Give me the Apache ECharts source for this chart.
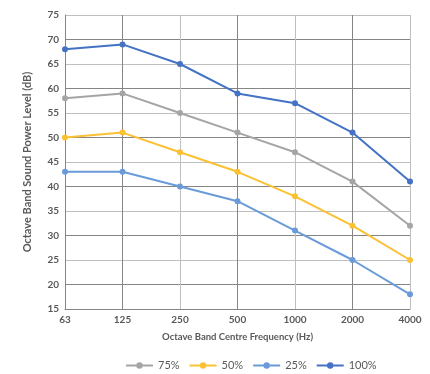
<!DOCTYPE html>
<html><head><meta charset="utf-8">
<script src="https://cdn.jsdelivr.net/npm/echarts@6/dist/echarts.min.js"></script>
<style>html,body{margin:0;padding:0;background:#fff}#c{width:430px;height:374px}</style>
</head><body><div id="c"></div>
<script>
const categories = ['63','125','250','500','1000','2000','4000'];
const s75 = [58, 59, 55, 51, 47, 41, 32];
const s50 = [50, 51, 47, 43, 38, 32, 25];
const s25 = [43, 43, 40, 37, 31, 25, 18];
const s100 = [68, 69, 65, 59, 57, 51, 41];
const seriesNames = ['75%','50%','25%','100%'];
const seriesData = [s75, s50, s25, s100];
const colors = ['#A5A5A5','#FBC132','#6A9BD8','#4472C4'];
const font = 'Lato, "Open Sans", sans-serif';
const chart = echarts.init(document.getElementById('c'));
chart.setOption({
  animation:false,
  color: colors,
  grid:{left:65,right:20,top:15,bottom:65},
  legend:{top:355,left:120,itemWidth:27,itemHeight:8,itemGap:9,
    textStyle:{color:'#595959',fontSize:11,fontFamily:font}},
  xAxis:{type:'category',data:categories,boundaryGap:false,
    name:'Octave Band Centre Frequency (Hz)',nameLocation:'middle',nameGap:23,
    nameTextStyle:{color:'#595959',fontSize:9.5,fontWeight:'bold',fontFamily:font},
    axisLine:{lineStyle:{color:'#858585',width:1}},axisTick:{show:false},
    axisLabel:{color:'#595959',fontSize:10,fontWeight:'bold',fontFamily:font,margin:6},
    splitLine:{show:true,lineStyle:{color:['#bfbfbf','#858585'],width:1}}},
  yAxis:{type:'value',min:15,max:75,interval:5,
    name:'Octave Band Sound Power Level (dB)',nameLocation:'middle',nameGap:32,
    nameTextStyle:{color:'#595959',fontSize:11,fontWeight:'bold',fontFamily:font},
    axisLine:{show:true,lineStyle:{color:'#858585'}},axisTick:{show:false},
    axisLabel:{color:'#595959',fontSize:10,fontWeight:'bold',fontFamily:font,margin:6},
    splitLine:{show:true,lineStyle:{color:['#bfbfbf','#858585'],width:1}}},
  series: seriesNames.map((n,i)=>({name:n,type:'line',data:seriesData[i],
    symbol:'circle',symbolSize:6,lineStyle:{width:2},itemStyle:{color:colors[i]}}))
});
</script></body></html>
